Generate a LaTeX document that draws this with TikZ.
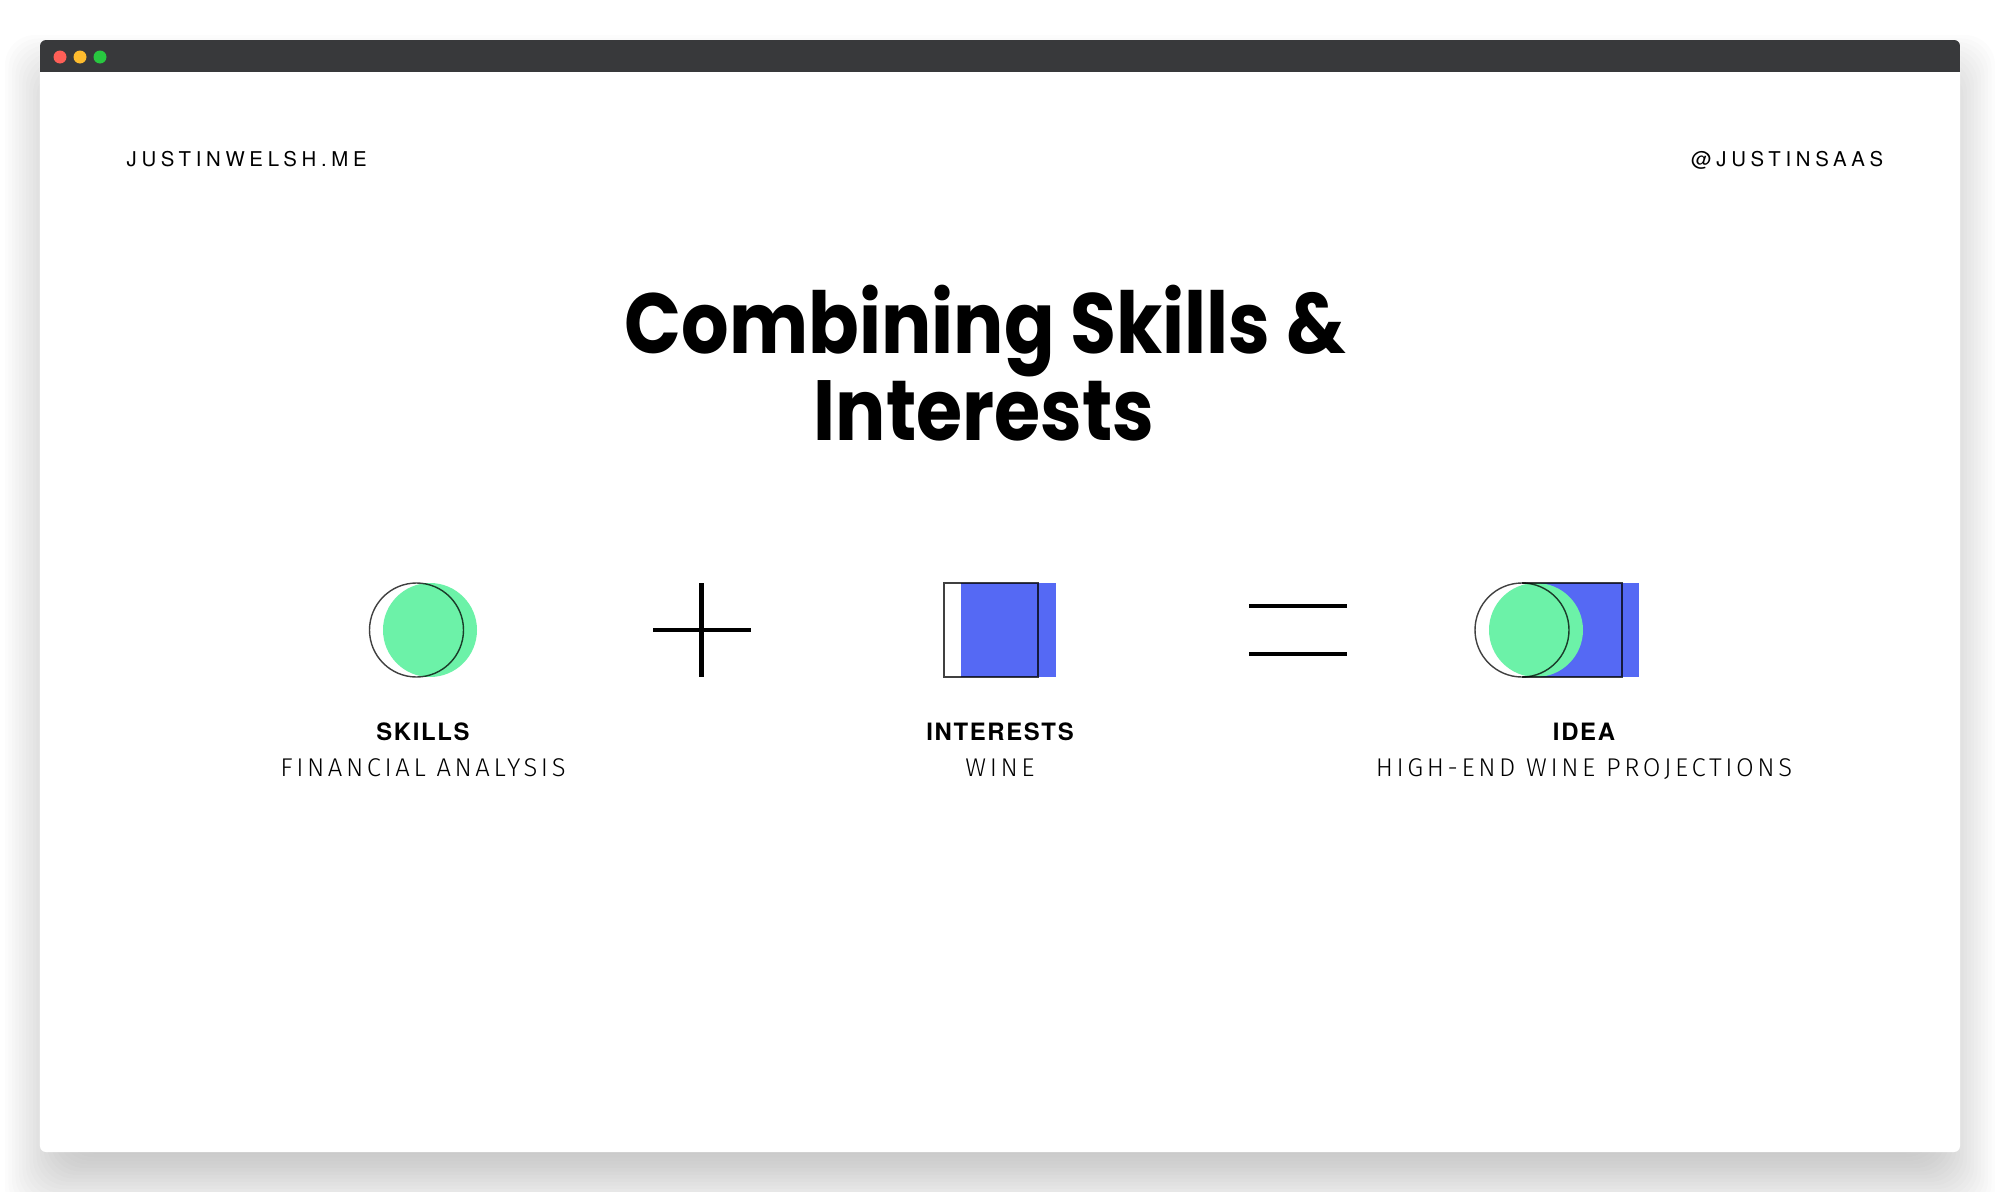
\documentclass[tikz,border=0pt]{standalone}
\usepackage{fontspec}
\setmainfont{TeX Gyre Heros}
\newfontfamily\titlefont{Poppins}[FakeStretch=0.875]
\newfontfamily\headfont{TeX Gyre Heros}[LetterSpace=23]
\newfontfamily\labelfont{TeX Gyre Heros}[LetterSpace=7]
\newfontfamily\subfont{Fira Sans Light}[LetterSpace=14]
\usetikzlibrary{positioning}

\definecolor{barcol}{HTML}{38393B}
\definecolor{dotred}{HTML}{FF5F57}
\definecolor{dotyellow}{HTML}{FEBC2E}
\definecolor{dotgreen}{HTML}{28C840}
\definecolor{mint}{HTML}{6CF2A8}
\definecolor{royal}{HTML}{5569F4}

\tikzset{
  headtext/.style={inner sep=0pt, font=\headfont\fontsize{5.8}{7}\selectfont},
  titletext/.style={inner sep=0pt, anchor=base, font=\titlefont\bfseries\fontsize{24.3}{25}\selectfont},
  labeltext/.style={inner sep=0pt, anchor=base, font=\labelfont\bfseries\fontsize{6.8}{8}\selectfont},
  subtext/.style={inner sep=0pt, anchor=base, font=\subfont\fontsize{7.3}{8}\selectfont},
  outline/.style={draw=black, draw opacity=0.75, line width=0.4pt},
  opline/.style={line width=1.3pt, black}
}

\begin{document}
\begin{tikzpicture}[line cap=butt]
    \useasboundingbox (0,0) rectangle (20,-11.92);
    % soft shadow under the window
    \foreach \s in {1,...,20}
      \fill[black, opacity=0.012, rounded corners=0.3cm]
        (0.75-\s*0.035, -1.05+\s*0.035) rectangle (19.25+\s*0.035, -11.47-\s*0.035);
    \fill[white, rounded corners=0.06cm] (0.4,-0.4) rectangle (19.6,-11.52);
    \begin{scope}
      \clip[rounded corners=0.06cm] (0.4,-0.4) rectangle (19.6,-11.52);
      \fill[barcol] (0.4,-0.4) rectangle (19.6,-0.72);
    \end{scope}
    \fill[dotred] (0.6,-0.57) circle (0.065);
    \fill[dotyellow] (0.8,-0.57) circle (0.065);
    \fill[dotgreen] (1.0,-0.57) circle (0.065);

    \node[headtext, anchor=base west] (site) at (1.26,-1.66) {JUSTINWELSH.ME};
    \node[headtext, anchor=base east] (handle) at (18.84,-1.66) {@JUSTINSAAS};

    \node[titletext] (title) at (9.855,-3.53) {Combining Skills \&};
    \node[titletext] (titlesub) at (9.84,-4.40) {Interests};

    % skills
    \fill[mint] (4.30,-6.30) circle (0.47);
    \draw[outline] (4.165,-6.30) circle (0.47);
    % plus
    \draw[opline] (7.015,-5.83) -- (7.015,-6.77);
    \draw[opline] (6.53,-6.30) -- (7.51,-6.30);
    % interests
    \fill[royal] (9.61,-5.83) rectangle (10.56,-6.77);
    \draw[outline] (9.44,-5.83) rectangle (10.38,-6.77);
    % equals
    \draw[opline] (12.49,-6.06) -- (13.47,-6.06);
    \draw[opline] (12.49,-6.54) -- (13.47,-6.54);
    % idea
    \fill[royal] (15.36,-5.83) rectangle (16.39,-6.77);
    \fill[mint] (15.36,-6.30) circle (0.47);
    \draw[outline] (15.22,-6.30) circle (0.47);
    \draw[outline] (15.22,-5.83) -- (16.22,-5.83) -- (16.22,-6.77) -- (15.22,-6.77);

    \node[labeltext] (skills) at (4.23,-7.40) {SKILLS};
    \node[subtext] (skillsub) at (4.23,-7.76) {FINANCIAL ANALYSIS};
    \node[labeltext] (interests) at (10.0,-7.40) {INTERESTS};
    \node[subtext] (interestsub) at (10.0,-7.76) {WINE};
    \node[labeltext] (idea) at (15.84,-7.40) {IDEA};
    \node[subtext] (ideasub) at (15.84,-7.76) {HIGH-END WINE PROJECTIONS};
\end{tikzpicture}
\end{document}
